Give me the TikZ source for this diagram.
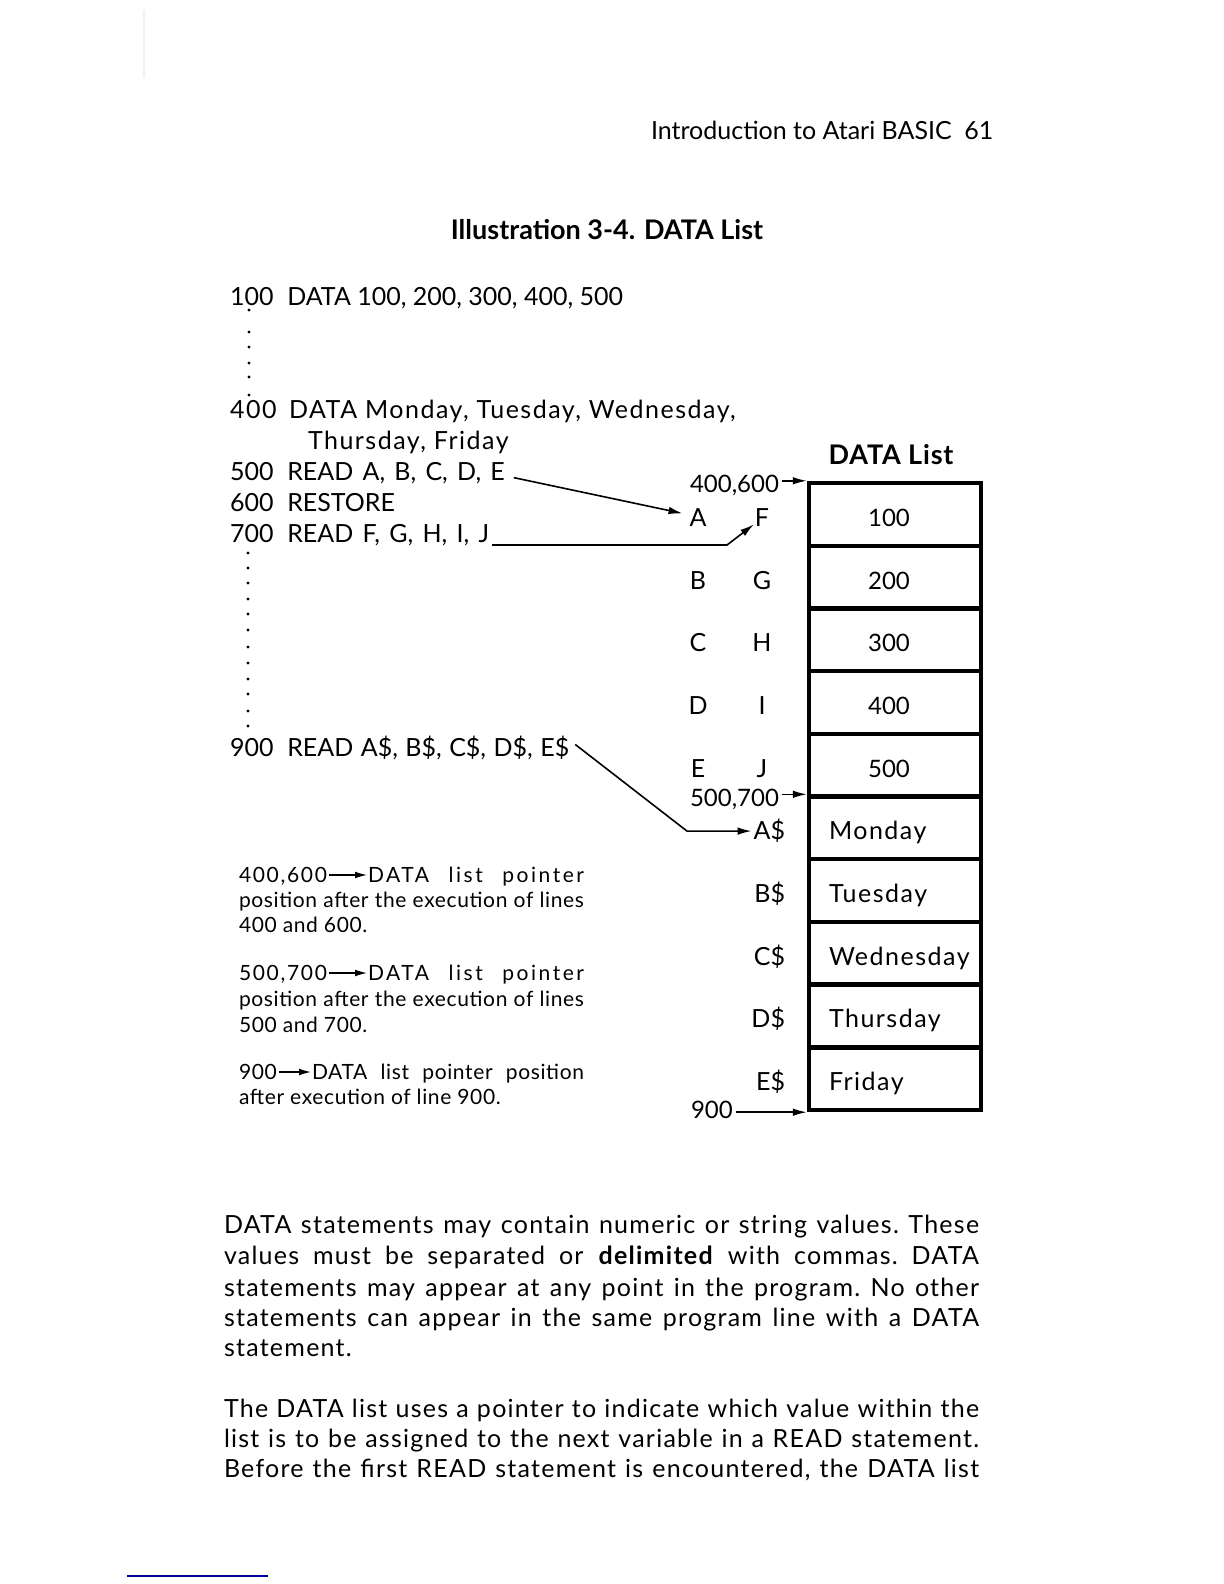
\documentclass[tikz,border=0pt]{standalone}
\usepackage{fontspec}
\setmainfont{Lato}
\usetikzlibrary{arrows.meta,calc}
\begin{document}
\begin{tikzpicture}[x=0.5pt,y=-0.5pt,
  every node/.style={inner sep=0pt, outer sep=0pt},
  txt/.style={anchor=base west, font=\fontsize{12.5}{15}\selectfont},
  lc/.style={font={\fontsize{12.5}{15}\selectfont\addfontfeature{LetterSpace=6}}},
  wide/.style={font={\fontsize{12.5}{15}\selectfont\spaceskip=#1em\relax}},
  num/.style={font=\fontsize{12}{15}\selectfont},
  hd/.style={font={\fontsize{13.5}{16}\selectfont\bfseries\addfontfeature{LetterSpace=#1}}},
  body/.style={anchor=base west, font={\fontsize{12.5}{15}\selectfont\frenchspacing\addfontfeature{LetterSpace=5}}},
  leg/.style={anchor=base west, font={\fontsize{10.5}{12.5}\selectfont\addfontfeature{LetterSpace=3}}},
  cell/.style={draw, line width=2.2pt, minimum width=86pt, minimum height=31.35pt, outer sep=1.1pt},
  arr/.style={line width=0.8pt, -{Latex[length=7pt,width=3.8pt]}},
  larr/.style={line width=0.6pt, -{Latex[length=6pt,width=3.4pt]}},
  dotmark/.style={fill=black}
]
\useasboundingbox[fill=white] (0,0) rectangle (1224,1584);
% scan artefacts
\draw[black!5, line width=1pt] (144,10) -- (144,78);
\draw[blue!60!black, line width=1pt] (127,1576) -- (268,1576);

% header and title
\node[txt] (hdr) at (651,140) {Introduction to Atari BASIC\hspace{0.5em}61};
\node[txt, anchor=base, hd=0] (ttl) at (607,239) {Illustration 3-4. DATA List};

% program lines
\node[txt] (r100) at (230,305) {100\hspace{0.55em}DATA 100, 200, 300, 400, 500};
\node[txt, lc] (r400) at (230,418) {400\hspace{0.5em}DATA Monday, Tuesday, Wednesday,};
\node[txt, lc] (r400b) at (308,449) {Thursday, Friday};
\node[txt, wide=0.37] (r500) at (230,480) {500\hspace{0.55em}READ A, B, C, D, E};
\node[txt] (r600) at (230,511) {600\hspace{0.55em}RESTORE};
\node[txt, wide=0.37] (r700) at (230,542) {700\hspace{0.55em}READ F, G, H, I, J};
\node[txt, wide=0.3] (r900) at (230,756) {900\hspace{0.55em}READ A\$, B\$, C\$, D\$, E\$};

% dotted continuation marks
\foreach \y in {310,332,347,363,377,395} \fill[dotmark] (249,\y) circle (0.85pt);
\foreach \y in {553,568,583,599,614,630,647,663,679,694,711,726} \fill[dotmark] (248,\y) circle (0.85pt);

% DATA list box
\node[txt, anchor=base, hd=3] (dlh) at (891,464) {DATA List};
\foreach \i in {1,...,10} \node[cell] (c\i) at (895,{483+62.7*(\i-0.5)}) {};
\foreach \i/\t in {1/100,2/200,3/300,4/400,5/500}
  \node[txt, num, anchor=base] (v\i) at (889,{463.65+62.7*\i}) {\t};
\foreach \i/\t in {6/Monday,7/Tuesday,8/Wednesday,9/Thursday,10/Friday}
  \node[txt, lc] (v\i) at (829,{463.65+62.7*\i}) {\t};

% variable letters
\foreach \i/\t in {1/A,2/B,3/C,4/D,5/E}
  \node[txt, anchor=base] (L\i) at (698,{463.65+62.7*\i}) {\t};
\foreach \i/\t in {1/F,2/G,3/H,4/I,5/J}
  \node[txt, anchor=base] (R\i) at (762,{463.65+62.7*\i}) {\t};
\foreach \i/\t in {6/A,7/B,8/C,9/D,10/E}
  \node[txt, anchor=base east] (S\i) at (785,{463.65+62.7*\i}) {\t\$};

% pointer labels
\node[txt, num, inner xsep=1.5pt] (p1) at (687,492) {400,600};
\node[txt, num, inner xsep=1.5pt] (p2) at (687,806) {500,700};
\node[txt, num, inner xsep=1.5pt] (p3) at (688,1118) {900};
\draw[arr] (p1.east |- c1.north west) -- (c1.north west);
\draw[arr] (p2.east |- c6.north west) -- (c6.north west);
\draw[arr] (p3.east |- c10.south west) -- (c10.south west);

% READ arrows
\draw[arr] ($(r500.east)+(9,5)$) -- ($(L1.west)+(-7,-4)$);
\coordinate (k2) at (727,545);
\draw[arr] ($(r700.base east)+(3,3)$) -- (k2) -- ($(R1.base west)+(-1,-2)$);
\coordinate (k3) at (687,829);
\draw[arr] ($(r900.east)+(6,-3)$) -- (k3 |- S6.west) -- ($(S6.west)+(-2,0)$);

% legend
\node[leg] (g1a) at (239,882) {\addfontfeature{LetterSpace=8}400,600};
\node[leg] (g1b) at (368,882) {\makebox[108pt][s]{\addfontfeature{LetterSpace=12}DATA list pointer}};
\draw[larr] ($(g1a.base east)+(2,-7)$) -- ($(g1b.base west)+(-1,-7)$);
\node[leg] (g2) at (239,907) {\makebox[172.5pt][s]{position after the execution of lines}};
\node[leg] (g3) at (239,932) {400 and 600.};
\node[leg] (g4a) at (239,980) {\addfontfeature{LetterSpace=8}500,700};
\node[leg] (g4b) at (368,980) {\makebox[108pt][s]{\addfontfeature{LetterSpace=12}DATA list pointer}};
\draw[larr] ($(g4a.base east)+(2,-7)$) -- ($(g4b.base west)+(-1,-7)$);
\node[leg] (g5) at (239,1006) {\makebox[172.5pt][s]{position after the execution of lines}};
\node[leg] (g6) at (239,1032) {500 and 700.};
\node[leg] (g7a) at (239,1079) {900};
\node[leg] (g7b) at (312,1079) {\makebox[136pt][s]{DATA list pointer position}};
\draw[larr] ($(g7a.base east)+(2,-7)$) -- ($(g7b.base west)+(-1,-7)$);
\node[leg] (g8) at (239,1104) {after execution of line 900.};

% body text
\node[body] (b1) at (224,1233) {\makebox[377.5pt][s]{DATA statements may contain numeric or string values. These}};
\node[body] (b2) at (224,1264) {\makebox[377.5pt][s]{values must be separated or \textbf{delimited} with commas. DATA}};
\node[body] (b3) at (224,1296) {\makebox[377.5pt][s]{statements may appear at any point in the program. No other}};
\node[body] (b4) at (224,1326) {\makebox[377.5pt][s]{statements can appear in the same program line with a DATA}};
\node[body] (b5) at (224,1356) {statement.};
\node[body] (b6) at (224,1417) {\makebox[377.5pt][s]{The DATA list uses a pointer to indicate which value within the}};
\node[body] (b7) at (224,1447) {\makebox[377.5pt][s]{list is to be assigned to the next variable in a READ statement.}};
\node[body] (b8) at (224,1477) {\makebox[377.5pt][s]{Before the first READ statement is encountered, the DATA list}};
\end{tikzpicture}
\end{document}
